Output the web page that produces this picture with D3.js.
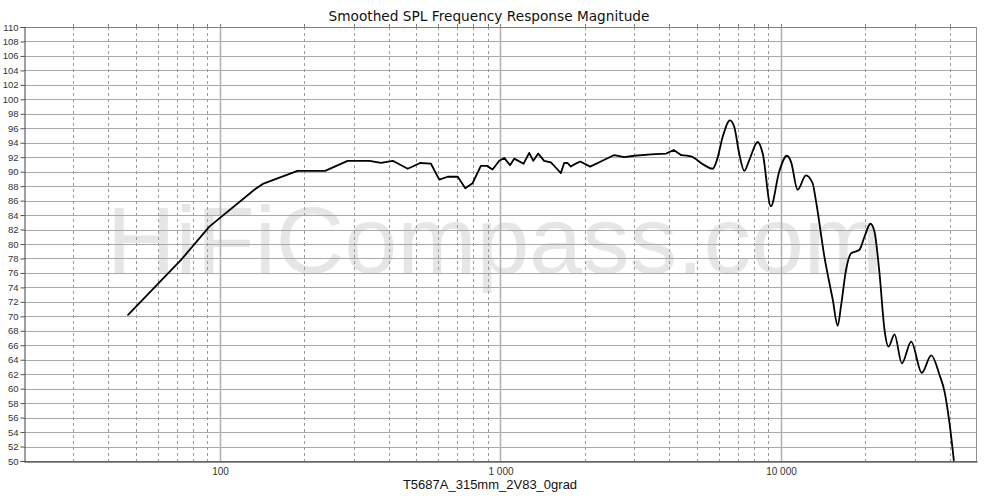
<!DOCTYPE html>
<html>
<head>
<meta charset="utf-8">
<script src="https://cdn.jsdelivr.net/npm/d3@7/dist/d3.min.js"></script>
<style>
  html, body { margin: 0; padding: 0; background: #fff; }
  svg { display: block; }
</style>
</head>
<body>
<svg id="chart" width="1000" height="498"></svg>
<script>
// ---- Data ----
const freq = [47, 72.6, 91.6, 132.5, 142, 189, 237, 285, 341, 375, 413, 467, 517, 565, 605, 648, 704, 749, 795, 851, 895, 937,
  990, 1031, 1081, 1119, 1209, 1266, 1309, 1363, 1431, 1512, 1598, 1641, 1687, 1734, 1782, 1832, 1924, 2088, 2279,
  2545, 2763, 2999, 3441, 3893, 4145, 4402, 4775, 5330, 5707, 5911, 6195, 6579, 6813, 7099, 7398, 7709, 8261, 8609,
  9206, 9853, 10503, 10855, 11469, 12271, 12967, 13310, 14277, 15300, 15930, 16370, 17060, 17780, 19040, 19850,
  20850, 21550, 22460, 23390, 24180, 25400, 26980, 29130, 31780, 34340, 36760, 38300, 39910, 41340];
const spl = [70.2, 77.8, 82.4, 87.5, 88.3, 90.1, 90.1, 91.5, 91.5, 91.2, 91.5, 90.4, 91.2, 91.1, 88.9, 89.3, 89.3, 87.7, 88.4, 90.8, 90.8, 90.3,
  91.5, 91.9, 90.9, 91.8, 91.1, 92.6, 91.5, 92.5, 91.5, 91.3, 90.3, 89.8, 91.2, 91.2, 90.7, 91.0, 91.4, 90.7, 91.4,
  92.3, 92.0, 92.2, 92.4, 92.5, 93.0, 92.3, 92.1, 90.9, 90.4, 91.6, 94.8, 97.1, 96.2, 92.5, 90.1, 91.6, 94.1, 92.5,
  85.2, 90.0, 92.2, 91.4, 87.5, 89.5, 88.4, 86.1, 78.3, 72.3, 68.7, 71.4, 76.4, 78.7, 79.2, 81.0,
  82.8, 81.7, 75.9, 68.2, 65.8, 67.5, 63.5, 66.5, 62.2, 64.6, 61.9, 59.6, 55.2, 50.1];
// below this frequency the trace is drawn as straight segments, above it as a smooth curve
const smoothFrom = 4402;

const yTicks = d3.range(50, 111, 2);
const xMajorTicks = [100, 1000, 10000];
const xMajorLabels = ["100", "1 000", "10 000"];
const xMinorTicks = [30, 40, 50, 60, 70, 80, 90, 200, 300, 400, 500, 600, 700, 800, 900,
  2000, 3000, 4000, 5000, 6000, 7000, 8000, 9000, 20000, 30000, 40000];
const titleText = "Smoothed SPL Frequency Response Magnitude";
const xAxisTitle = "T5687A_315mm_2V83_0grad";
const watermarkText = "HiFiCompass.com";

// ---- Layout ----
const L = 24, R = 977, T = 27, B = 461;
const svg = d3.select("#chart");
const x = d3.scaleLog().domain([20, 50000]).range([L, R]);
const y = d3.scaleLinear().domain([50, 110]).range([B, T]);

// watermark
svg.append("text")
  .attr("x", 107).attr("y", 273)
  .attr("font-family", "Liberation Sans, Arial, sans-serif")
  .attr("font-size", 95)
  .attr("fill", "#e6e6e6")
  .text(watermarkText);

// horizontal grid
svg.append("g").selectAll("line").data(yTicks).join("line")
  .attr("x1", L).attr("x2", R)
  .attr("y1", d => Math.round(y(d)) + 0.5).attr("y2", d => Math.round(y(d)) + 0.5)
  .attr("stroke", "#a8a8a8").attr("stroke-width", 1);

// minor vertical grid (dashed)
svg.append("g").selectAll("line").data(xMinorTicks).join("line")
  .attr("x1", d => Math.round(x(d)) + 0.5).attr("x2", d => Math.round(x(d)) + 0.5)
  .attr("y1", T).attr("y2", B)
  .attr("stroke", "#9a9a9a").attr("stroke-width", 1).attr("stroke-dasharray", "3,3");

// major vertical grid
svg.append("g").selectAll("line").data(xMajorTicks).join("line")
  .attr("x1", d => Math.round(x(d)) + 0.5).attr("x2", d => Math.round(x(d)) + 0.5)
  .attr("y1", T).attr("y2", B)
  .attr("stroke", "#b0b0b0").attr("stroke-width", 1.5);

// frame
svg.append("line").attr("x1", L).attr("x2", R).attr("y1", T + 0.5).attr("y2", T + 0.5).attr("stroke", "#808080");
svg.append("line").attr("x1", R - 0.5).attr("x2", R - 0.5).attr("y1", T).attr("y2", B).attr("stroke", "#909090");

// top ticks
svg.append("g").selectAll("line").data(xMinorTicks.concat(xMajorTicks)).join("line")
  .attr("x1", d => Math.round(x(d)) + 0.5).attr("x2", d => Math.round(x(d)) + 0.5)
  .attr("y1", T - 3).attr("y2", T)
  .attr("stroke", "#808080");

// y axis
const yAxis = d3.axisLeft(y).tickValues(yTicks).tickSize(4).tickPadding(2).tickFormat(d3.format("d"));
const gy = svg.append("g").attr("transform", `translate(${L + 0.5},0)`).call(yAxis);
gy.select(".domain").attr("stroke", "#404040");
gy.selectAll(".tick line").attr("stroke", "#505050");
gy.selectAll("text").attr("font-family", "Liberation Sans, Arial, sans-serif").attr("font-size", 9.5).attr("fill", "#333");

// x axis
const xAxis = d3.axisBottom(x).tickValues(xMajorTicks).tickSize(0).tickPadding(6)
  .tickFormat((d, i) => xMajorLabels[i]);
const gx = svg.append("g").attr("transform", `translate(0,${B + 0.5})`).call(xAxis);
gx.select(".domain").attr("stroke", "#202020");
gx.selectAll("text").attr("font-family", "Liberation Sans, Arial, sans-serif").attr("font-size", 10).attr("fill", "#333");

// curve
const pts = freq.map((f, i) => [f, spl[i]]);
const lowPts = pts.filter(d => d[0] <= smoothFrom);
const highPts = pts.filter(d => d[0] >= smoothFrom);
const lineGen = d3.line().x(d => x(d[0])).y(d => y(d[1]));
svg.append("path").datum(lowPts)
  .attr("fill", "none").attr("stroke", "#000").attr("stroke-width", 1.8)
  .attr("stroke-linejoin", "round").attr("stroke-linecap", "round")
  .attr("d", lineGen.curve(d3.curveLinear));
svg.append("path").datum(highPts)
  .attr("fill", "none").attr("stroke", "#000").attr("stroke-width", 1.8)
  .attr("stroke-linejoin", "round").attr("stroke-linecap", "round")
  .attr("d", lineGen.curve(d3.curveMonotoneX));

// title
svg.append("text")
  .attr("x", 489).attr("y", 21).attr("text-anchor", "middle")
  .attr("font-family", "DejaVu Sans, sans-serif").attr("font-size", 13.7).attr("fill", "#111")
  .text(titleText);

// x axis title
svg.append("text")
  .attr("x", 490).attr("y", 489).attr("text-anchor", "middle")
  .attr("font-family", "Liberation Sans, Arial, sans-serif").attr("font-size", 13).attr("fill", "#111")
  .text(xAxisTitle);
</script>
</body>
</html>
